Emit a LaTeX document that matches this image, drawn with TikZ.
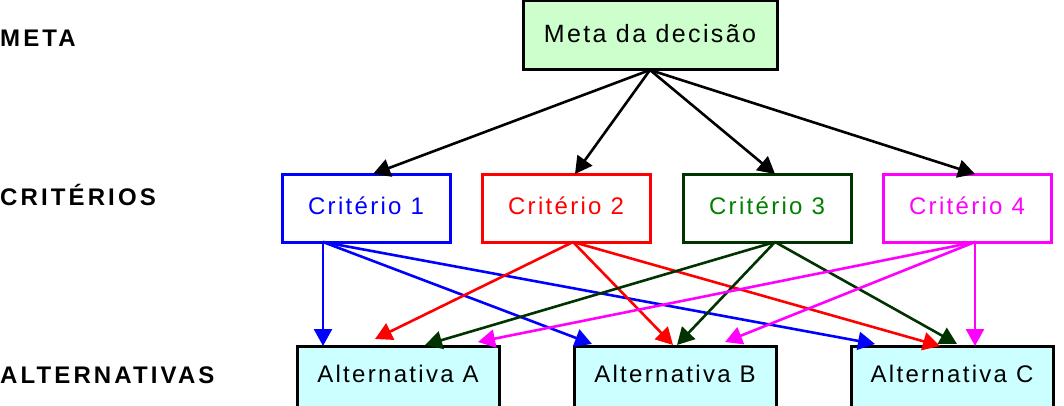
\documentclass[tikz,border=0pt]{standalone}
\usepackage{fontspec}
\setmainfont{Liberation Sans}
\newfontfamily\boxfont[LetterSpace=9.6]{Liberation Sans}
\newfontfamily\lblfont[LetterSpace=13]{Liberation Sans}
\usetikzlibrary{arrows.meta}
\definecolor{metafill}{HTML}{CCFFCC}
\definecolor{altfill}{HTML}{CCFFFF}
\definecolor{cblue}{HTML}{0000FF}
\definecolor{cred}{HTML}{FF0000}
\definecolor{cdkgreen}{HTML}{003300}
\definecolor{cgreentext}{HTML}{008000}
\definecolor{cmagenta}{HTML}{FF00FF}
\tikzset{
  box/.style={draw, line width=3pt, inner sep=0pt, outer sep=0pt, anchor=north west,
    minimum height=0pt, font=\boxfont\fontsize{24}{28}\selectfont},
  metabox/.style={box, fill=metafill, minimum width=254pt, text height=42pt, text depth=27pt,
    font=\boxfont\fontsize{25}{29}\selectfont},
  critbox/.style={box, minimum width=168pt, text height=40.5pt, text depth=27.5pt},
  altbox/.style={box, fill=altfill, minimum width=202pt, text height=36pt, text depth=30pt},
  lbl/.style={anchor=base west, inner sep=0pt, font=\lblfont\bfseries\fontsize{24}{28}\selectfont},
  arr/.style={line width=2.6pt, -{Triangle[length=17pt,width=18pt]}}
}
\begin{document}
\begin{tikzpicture}[x=1pt,y=-1pt]
\useasboundingbox (0,0) rectangle (1064,406);
% level labels
\node[lbl] (lmeta) at (0,47) {META};
\node[lbl] (lcrit) at (0,205) {CRITÉRIOS};
\node[lbl] (lalt) at (0,383) {ALTERNATIVAS};
% boxes
\node[metabox] (meta) at (523,1) {Meta da decisão};
\node[critbox, draw=cblue, text=cblue] (c1) at (282,174) {Critério 1};
\node[critbox, draw=cred, text=cred] (c2) at (482,174) {Critério 2};
\node[critbox, draw=cdkgreen, text=cgreentext] (c3) at (683,174) {Critério 3};
\node[critbox, draw=cmagenta, text=cmagenta] (c4) at (883,174) {Critério 4};
\node[altbox] (A) at (297,346) {Alternativa A};
\node[altbox] (B) at (574,346) {Alternativa B};
\node[altbox] (C) at (851,346) {Alternativa C};
% meta -> criteria
\draw[arr] (meta.south) -- ([xshift=7pt]c1.north);
\draw[arr] (meta.south) -- ([xshift=9pt]c2.north);
\draw[arr] (meta.south) -- ([xshift=8pt]c3.north);
\draw[arr] (meta.south) -- ([xshift=8pt]c4.north);
% criterio 1
\draw[arr, cblue] ([xshift=41pt]c1.south west) -- ([xshift=26pt]A.north west);
\draw[arr, cblue] ([xshift=41pt]c1.south west) -- ([xshift=18pt,yshift=2pt]B.north west);
\draw[arr, cblue] ([xshift=41pt]c1.south west) -- ([xshift=24pt,yshift=2pt]C.north west);
% criterio 2
\draw[arr, cred] ([xshift=7pt]c2.south) -- ([xshift=78pt,yshift=7pt]A.north west);
\draw[arr, cred] ([xshift=7pt]c2.south) -- ([xshift=99pt,yshift=1pt]B.north west);
\draw[arr, cred] ([xshift=7pt]c2.south) -- ([xshift=89pt]C.north west);
% criterio 3
\draw[arr, cdkgreen] ([xshift=8pt]c3.south) -- ([xshift=128pt,yshift=1pt]A.north west);
\draw[arr, cdkgreen] ([xshift=8pt]c3.south) -- ([xshift=103pt,yshift=1pt]B.north west);
\draw[arr, cdkgreen] ([xshift=8pt]c3.south) -- ([xshift=106pt,yshift=2pt]C.north west);
% criterio 4
\draw[arr, cmagenta] ([xshift=8pt]c4.south) -- ([xshift=181pt,yshift=4pt]A.north west);
\draw[arr, cmagenta] ([xshift=8pt]c4.south) -- ([xshift=151pt,yshift=4pt]B.north west);
\draw[arr, cmagenta] ([xshift=8pt]c4.south) -- ([xshift=124pt]C.north west);
\end{tikzpicture}
\end{document}
